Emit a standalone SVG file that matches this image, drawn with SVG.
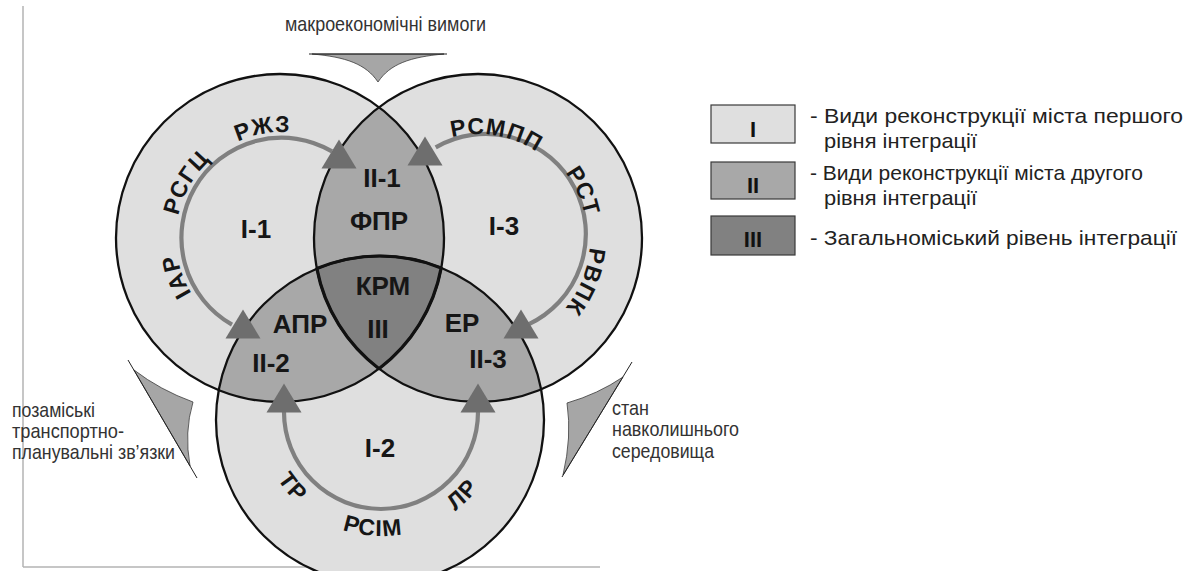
<svg xmlns="http://www.w3.org/2000/svg" xmlns:xlink="http://www.w3.org/1999/xlink" width="1189" height="571" viewBox="0 0 1189 571">
  <style>
    .ring{fill:#dfdfdf}
    .mid{fill:#a8a8a8}
    .core{fill:#818181}
    .edge{fill:none;stroke:#111;stroke-width:2.3}
    .core-edge{fill:none;stroke:#111;stroke-width:3.2;stroke-linejoin:round}
    .lbl{font-family:"Liberation Sans",Arial,sans-serif;font-weight:bold;font-size:26px;fill:#161616;text-anchor:middle}
    .arcl{font-family:"Liberation Sans",Arial,sans-serif;font-weight:bold;font-size:23px;fill:#161616;letter-spacing:1.2px}
    .flow{fill:none;stroke:#808080;stroke-width:4.2}
    .head{fill:#6e6e6e}
    .note{font-family:"Liberation Sans",Arial,sans-serif;font-size:21px;fill:#333}
    .legend{font-family:"Liberation Sans",Arial,sans-serif;font-size:21px;fill:#222}
    .legend-key{font-family:"Liberation Sans",Arial,sans-serif;font-weight:bold;font-size:22px;fill:#111;text-anchor:middle}
    .box{stroke:#3a3a3a;stroke-width:1.2}
    .funnel{fill:#a6a6a6;stroke:#3a3a3a;stroke-width:0.8}
    .frame{stroke:#b4b4b4;stroke-width:1.5;fill:none}
  </style>
  <defs>
    <clipPath id="clip-tl"><circle cx="280" cy="238" r="164"/></clipPath>
    <clipPath id="clip-tr"><circle cx="478" cy="238" r="164"/></clipPath>
    <path id="tri" d="M0 -14.5 L17.5 14.5 L-17.5 14.5 Z"/>
    <!-- baselines for the ring labels -->
    <path id="p-iar" d="M229 329.8 A106 106 0 0 1 182.4 201.7"/>
    <path id="p-rsgc" d="M177.6 256.4 A106 106 0 0 1 245.7 138.4"/>
    <path id="p-rzhz" d="M200.8 169.9 A106 106 0 0 1 335 146.2"/>
    <path id="p-rsmpp" d="M426 147.9 A104 104 0 0 1 557.7 171.2"/>
    <path id="p-rst" d="M525.8 140 A109 109 0 0 1 582.8 268"/>
    <path id="p-rvpk" d="M584.5 203.4 A112 112 0 0 1 530.6 336.9"/>
    <path id="p-tr" d="M258 413 A123 123 0 0 0 359.6 534.1"/>
    <path id="p-rsim" d="M295.6 501.5 A123 123 0 0 0 453.3 512.5"/>
    <path id="p-lr" d="M391.7 535.5 A123 123 0 0 0 503.5 423.7"/>
  </defs>

  <rect width="1189" height="571" fill="#fff"/>

  <!-- page frame -->
  <path class="frame" d="M23 6 V567 M23 567 H600"/>

  <!-- outer influences -->
  <g id="influence-top">
    <path class="funnel" d="M312 54 L444 54 C410 57 390 64 378 82 C366 64 346 57 312 54 Z"/>
    <path d="M309 54 H447" stroke="#222" stroke-width="1.2"/>
    <text class="note" x="285" y="31" textLength="201" lengthAdjust="spacingAndGlyphs">макроекономічні вимоги</text>
  </g>
  <g id="influence-left">
    <path class="funnel" d="M134 370 Q160 390 193 402 Q184 432 190 466 Z"/>
    <path d="M128 360 L197 478" stroke="#222" stroke-width="1"/>
    <text class="note" x="12" y="417" textLength="83" lengthAdjust="spacingAndGlyphs">позаміські</text>
    <text class="note" x="12" y="438" textLength="112" lengthAdjust="spacingAndGlyphs">транспортно-</text>
    <text class="note" x="12" y="459" textLength="163" lengthAdjust="spacingAndGlyphs">планувальні зв’язки</text>
  </g>
  <g id="influence-right">
    <path class="funnel" d="M623 377 Q598 394 567 403 Q572 437 563 475 Z"/>
    <path d="M632 362 L562 477" stroke="#222" stroke-width="1"/>
    <text class="note" x="612" y="415" textLength="37" lengthAdjust="spacingAndGlyphs">стан</text>
    <text class="note" x="612" y="436" textLength="127" lengthAdjust="spacingAndGlyphs">навколишнього</text>
    <text class="note" x="612" y="458" textLength="102" lengthAdjust="spacingAndGlyphs">середовища</text>
  </g>

  <!-- first level: three city reconstruction circles -->
  <g id="node-i1"><circle class="ring" cx="280" cy="238" r="164"/></g>
  <g id="node-i3"><circle class="ring" cx="478" cy="238" r="164"/></g>
  <g id="node-i2"><circle class="ring" cx="380" cy="420" r="164"/></g>

  <!-- second level: pairwise overlaps -->
  <g id="node-ii1"><circle class="mid" cx="478" cy="238" r="164" clip-path="url(#clip-tl)"/></g>
  <g id="node-ii2"><circle class="mid" cx="380" cy="420" r="164" clip-path="url(#clip-tl)"/></g>
  <g id="node-ii3"><circle class="mid" cx="380" cy="420" r="164" clip-path="url(#clip-tr)"/></g>

  <!-- third level: common core -->
  <g id="node-iii">
    <path class="core" d="M316.9 268.6 A164 164 0 0 1 441.2 267.9 A164 164 0 0 1 379 368.7 A164 164 0 0 1 316.9 268.6 Z"/>
  </g>

  <!-- outlines -->
  <g id="outlines">
    <circle class="edge" cx="280" cy="238" r="164"/>
    <circle class="edge" cx="478" cy="238" r="164"/>
    <circle class="edge" cx="380" cy="420" r="164"/>
    <path class="core-edge" d="M316.9 268.6 A164 164 0 0 1 441.2 267.9 A164 164 0 0 1 379 368.7 A164 164 0 0 1 316.9 268.6 Z"/>
  </g>

  <!-- flows between levels -->
  <g id="connectors">
    <path class="flow" d="M232 324.6 A100 100 0 1 1 332 151.4"/>
    <path class="flow" d="M435.7 147.4 A100 100 0 1 1 528 324.6"/>
    <path class="flow" d="M284 412 A97 97 0 0 0 478 412"/>
    <use href="#tri" class="head" x="339" y="154"/>
    <use href="#tri" class="head" x="243" y="324"/>
    <use href="#tri" class="head" x="425" y="151"/>
    <use href="#tri" class="head" x="521" y="324"/>
    <use href="#tri" class="head" x="284" y="398"/>
    <use href="#tri" class="head" x="478" y="398"/>
  </g>

  <!-- ring labels -->
  <g id="ring-labels">
    <text class="arcl"><textPath href="#p-iar" startOffset="50%" text-anchor="middle">ІАР</textPath></text>
    <text class="arcl"><textPath href="#p-rsgc" startOffset="50%" text-anchor="middle">РСГЦ</textPath></text>
    <text class="arcl"><textPath href="#p-rzhz" startOffset="50%" text-anchor="middle">РЖЗ</textPath></text>
    <text class="arcl"><textPath href="#p-rsmpp" startOffset="50%" text-anchor="middle">РСМПП</textPath></text>
    <text class="arcl"><textPath href="#p-rst" startOffset="50%" text-anchor="middle">РСТ</textPath></text>
    <text class="arcl"><textPath href="#p-rvpk" startOffset="50%" text-anchor="middle">РВПК</textPath></text>
    <text class="arcl"><textPath href="#p-tr" startOffset="50%" text-anchor="middle">ТР</textPath></text>
    <text class="arcl"><textPath href="#p-rsim" startOffset="50%" text-anchor="middle">РСІМ</textPath></text>
    <text class="arcl"><textPath href="#p-lr" startOffset="50%" text-anchor="middle">ЛР</textPath></text>
  </g>

  <!-- region labels -->
  <g id="region-labels">
    <text class="lbl" x="256" y="238">I-1</text>
    <text class="lbl" x="504" y="235">I-3</text>
    <text class="lbl" x="380" y="457">I-2</text>
    <text class="lbl" x="382" y="187">II-1</text>
    <text class="lbl" x="379" y="230">ФПР</text>
    <text class="lbl" x="383" y="295">КРМ</text>
    <text class="lbl" x="378" y="338">III</text>
    <text class="lbl" x="300" y="333">АПР</text>
    <text class="lbl" x="271" y="372">II-2</text>
    <text class="lbl" x="462" y="332">ЕР</text>
    <text class="lbl" x="488" y="368">II-3</text>
  </g>

  <!-- legend -->
  <g id="legend">
    <rect class="box ring" x="711" y="105" width="84" height="38"/>
    <text class="legend-key" x="753" y="137">I</text>
    <rect class="box mid" x="711" y="162" width="84" height="37"/>
    <text class="legend-key" x="753" y="193">II</text>
    <rect class="box core" x="711" y="216" width="84" height="39"/>
    <text class="legend-key" x="753" y="247">III</text>
    <text class="legend" x="810" y="123" textLength="373" lengthAdjust="spacingAndGlyphs">- Види реконструкції міста  першого</text>
    <text class="legend" x="824" y="148" textLength="153" lengthAdjust="spacingAndGlyphs">рівня інтеграції</text>
    <text class="legend" x="810" y="180" textLength="333" lengthAdjust="spacingAndGlyphs">- Види реконструкції міста другого</text>
    <text class="legend" x="824" y="205" textLength="153" lengthAdjust="spacingAndGlyphs">рівня інтеграції</text>
    <text class="legend" x="810" y="245" textLength="367" lengthAdjust="spacingAndGlyphs">- Загальноміський рівень інтеграції</text>
  </g>
</svg>
